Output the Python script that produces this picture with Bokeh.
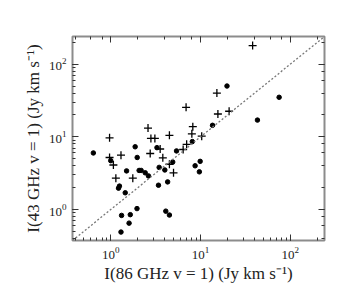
from bokeh.plotting import figure
from bokeh.models import LogAxis, Slope, CustomJSTickFormatter
from bokeh.embed import file_html
from bokeh.resources import INLINE

# I(86 GHz v=1) vs I(43 GHz v=1), Jy km s^-1
cross_x = [38, 15.2, 6.9, 15.6, 20.8, 8.2, 2.6, 8.0, 4.5, 10.3, 0.97, 2.8, 3.1,
           7.0, 3.55, 6.4, 1.3, 2.75, 0.97, 1.07, 3.8, 4.5, 5.0, 1.14, 1.76]
cross_y = [180, 40, 25.5, 20.6, 22.5, 13.8, 13.2, 11.0, 10.5, 10.2, 9.7, 9.5, 9.5,
           7.9, 6.8, 6.7, 5.6, 5.9, 5.2, 4.1, 5.15, 4.2, 3.2, 2.7, 2.7]

dot_x = [75, 19.7, 43, 13.6, 8.1, 1.87, 3.27, 5.4, 0.64, 1.97, 1.0, 9.9, 8.7, 9.7,
         3.46, 4.9, 4.0, 1.5, 2.07, 2.18, 2.42, 2.63, 1.25, 1.22, 1.45, 3.4, 4.3,
         1.32, 1.65, 1.96, 1.6, 1.3, 4.1, 4.5]
dot_y = [35, 50, 17, 14.4, 8.6, 7.3, 7.1, 6.4, 6.0, 5.2, 4.7, 4.6, 4.0, 3.3,
         3.8, 4.5, 3.5, 3.4, 3.45, 3.45, 3.2, 2.9, 2.1, 1.97, 1.7, 2.16, 2.4,
         0.83, 0.85, 1.03, 0.65, 0.49, 0.95, 0.84]

x_range = (0.375, 240)
y_range = (0.375, 240)

p = figure(x_axis_type="log", y_axis_type="log", x_range=x_range, y_range=y_range,
           frame_width=252, frame_height=204, output_backend="svg",
           toolbar_location=None, min_border_left=72, min_border_top=36,
           min_border_right=22, min_border_bottom=10)
p.background_fill_color = "white"
p.border_fill_color = "white"
p.grid.visible = False
p.outline_line_color = "#8c8c8c"
p.outline_line_width = 2

p.add_layout(LogAxis(formatter=CustomJSTickFormatter(code="return ''"),
                     major_label_standoff=0), "above")
p.add_layout(LogAxis(formatter=CustomJSTickFormatter(code="return ''"),
                     major_label_standoff=0), "right")

for ax in p.axis:
    ax.axis_line_color = None
    ax.major_tick_in = 6
    ax.major_tick_out = 0
    ax.minor_tick_in = 3
    ax.minor_tick_out = 0
    ax.major_tick_line_color = "#333333"
    ax.minor_tick_line_color = "#333333"
    ax.major_label_text_font = "Liberation Serif"
    ax.major_label_text_font_size = "13px"
    ax.major_label_text_color = "#222222"
    ax.axis_label_text_font = "Liberation Serif"
    ax.axis_label_text_font_size = "17px"
    ax.axis_label_text_font_style = "normal"
    ax.axis_label_text_color = "#222222"

p.below[0].axis_label = "I(86 GHz v = 1) (Jy km s\u207b\u00b9)"
p.left[0].axis_label = "I(43 GHz v = 1) (Jy km s\u207b\u00b9)"
p.below[0].major_label_standoff = 6
p.left[0].major_label_standoff = 6
p.below[0].axis_label_standoff = 2
p.left[0].axis_label_standoff = 3

p.add_layout(Slope(gradient=1, y_intercept=0, line_color="#777777",
                   line_dash="2 2", line_width=1.3))

p.scatter(cross_x, cross_y, marker="cross", size=8, line_color="black", line_width=1.3)
p.scatter(dot_x, dot_y, marker="circle", size=4.5, fill_color="black", line_color="black")

open("out.html", "w").write(file_html(p, INLINE))
